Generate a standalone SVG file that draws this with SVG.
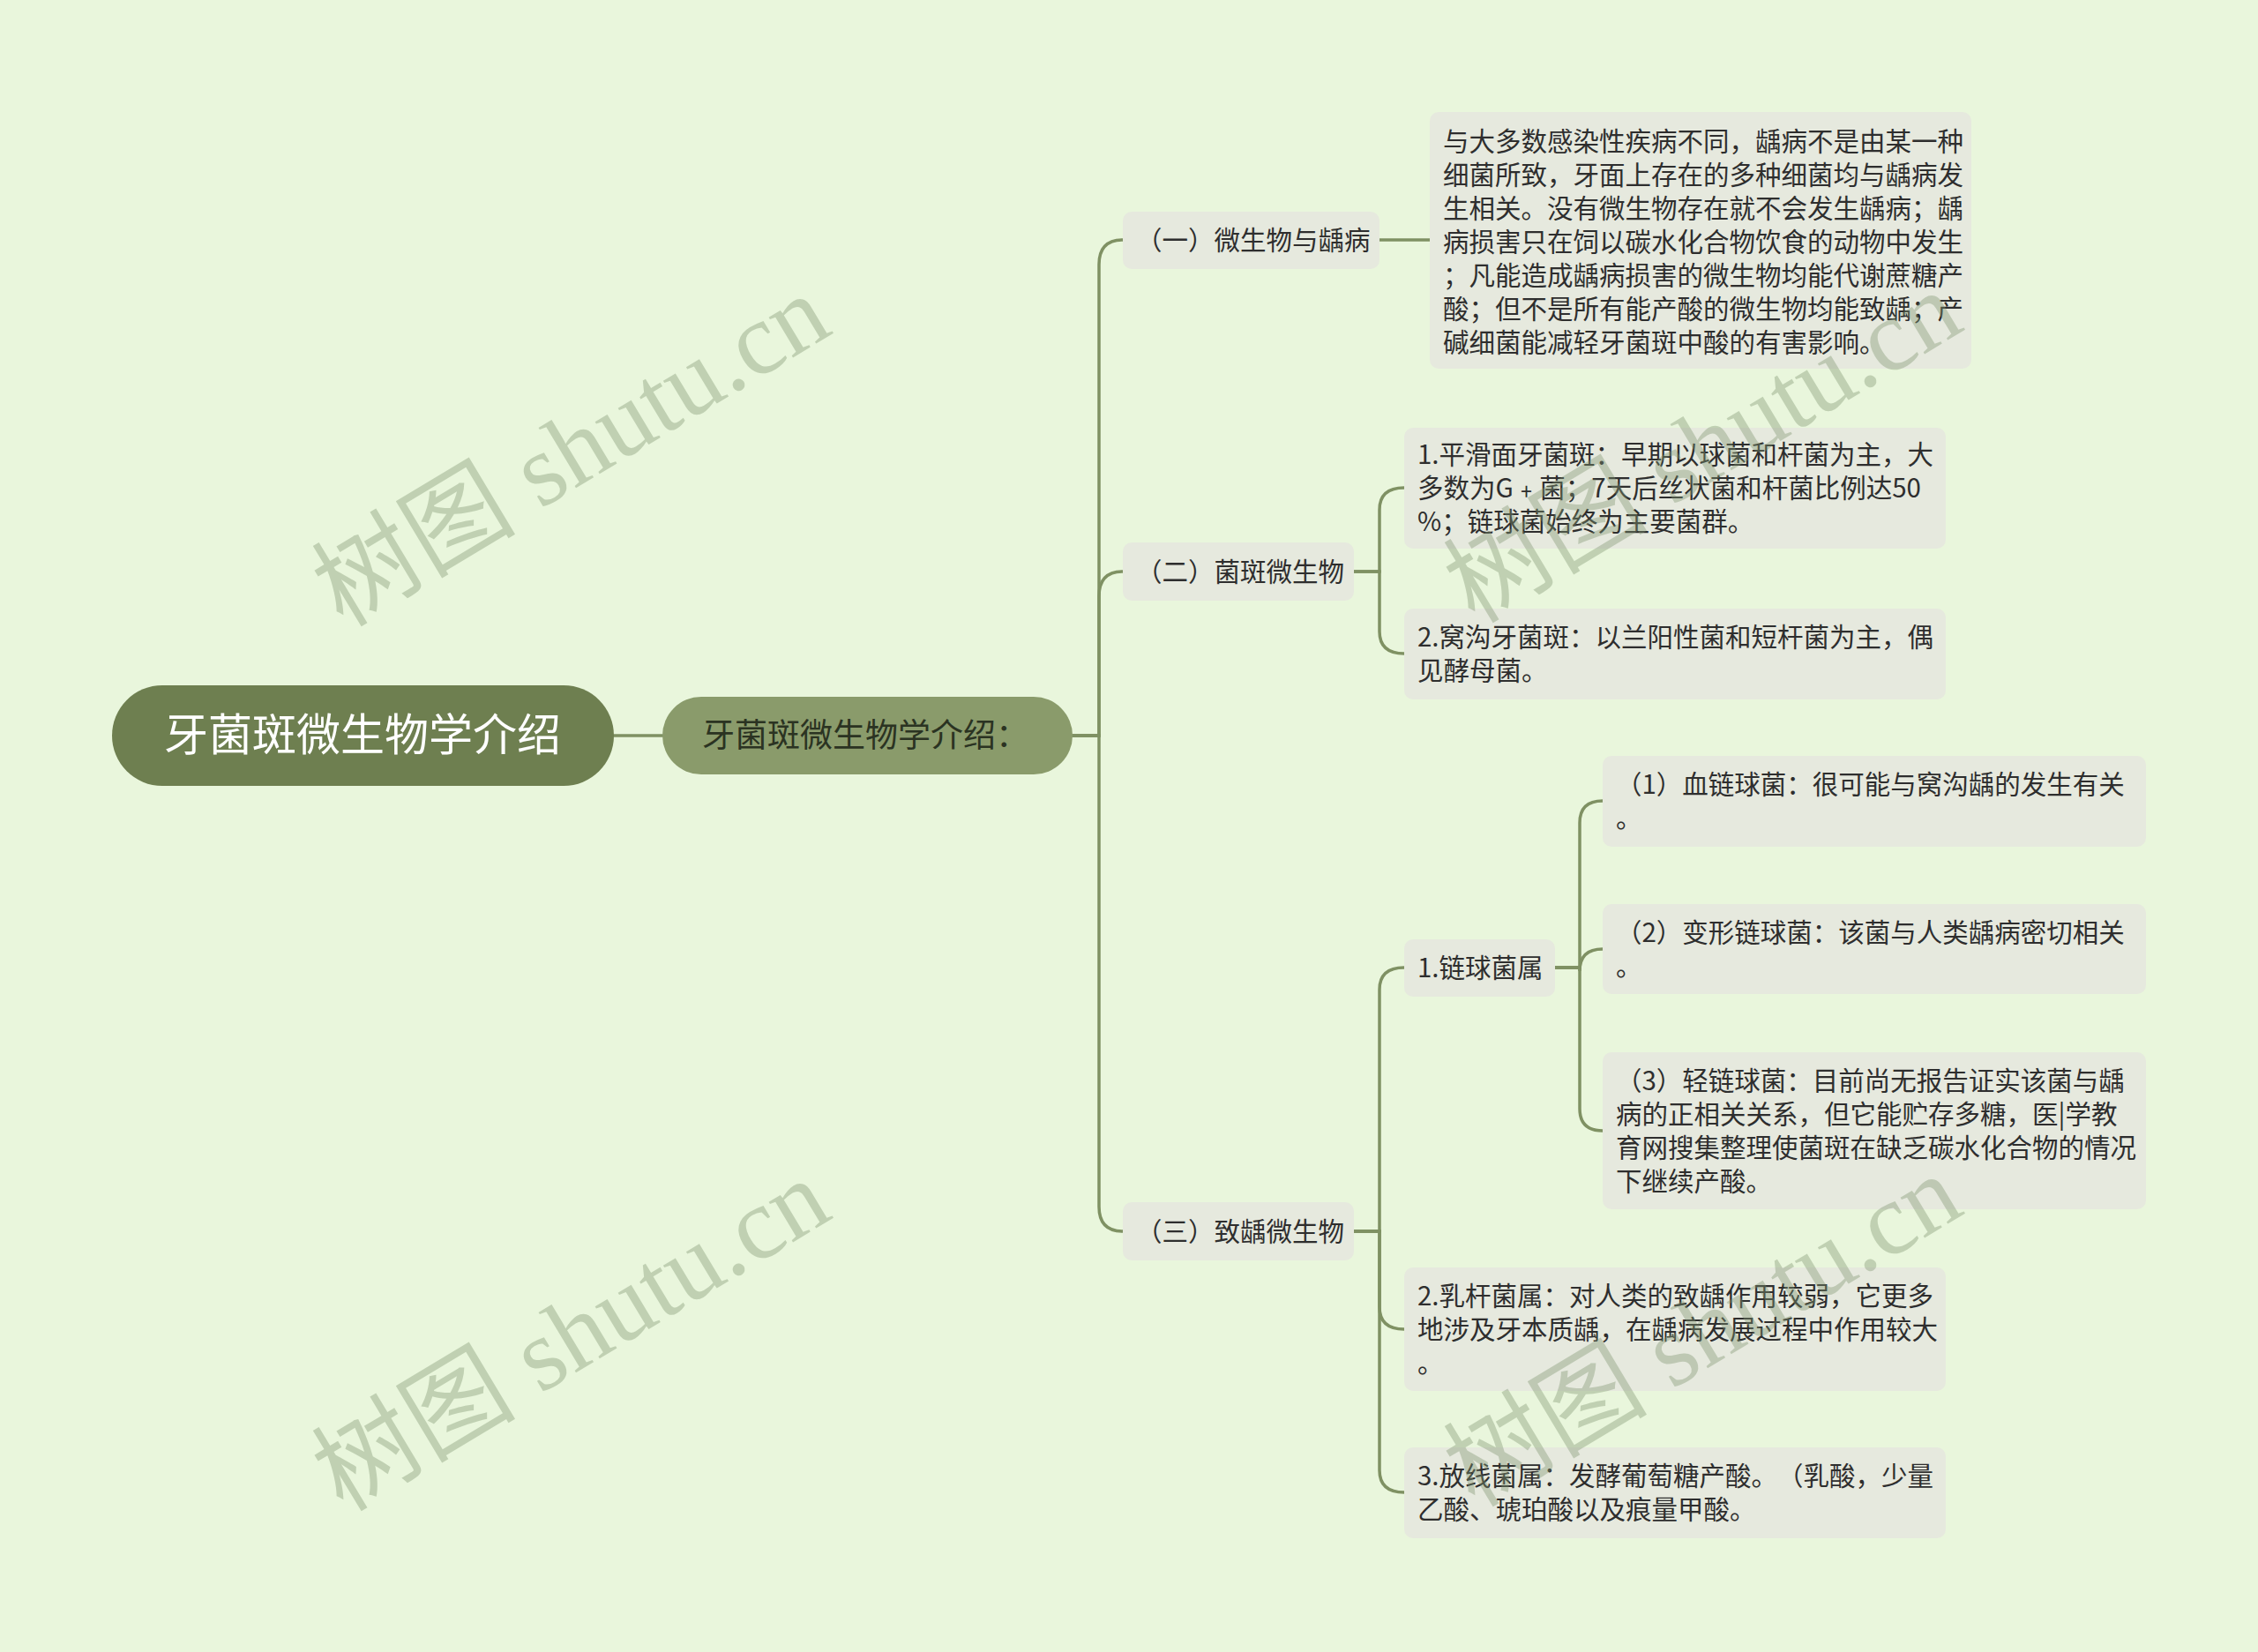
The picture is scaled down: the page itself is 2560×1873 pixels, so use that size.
<svg xmlns="http://www.w3.org/2000/svg" width="2560" height="1873" viewBox="0 0 2560 1873">
<style>
.bg{fill:#e9f6dc}
.ln{fill:none;stroke:#7f9163;stroke-width:3.5;stroke-linecap:round}
.box{fill:#e6e9de}
text{text-spacing-trim:space-all}
.t{font-family:"Noto Sans CJK SC","Noto Sans",sans-serif;font-size:29.5px;fill:#2e2e2e}
.wm{font-family:"Liberation Serif","Noto Sans CJK SC",serif;font-size:116px;fill:#7f9570;opacity:0.38}
</style>
<rect class="bg" x="0" y="0" width="2560" height="1873"/>
<g id="connectors">
<path class="ln" d="M696,834 H751"/>
<path class="ln" d="M1216,834 H1246 V300 Q1246,272 1273,272"/>
<path class="ln" d="M1216,834 H1246 V676 Q1246,648 1273,648"/>
<path class="ln" d="M1216,834 H1246 V1368 Q1246,1396 1273,1396"/>
<path class="ln" d="M1564,272 H1621"/>
<path class="ln" d="M1535,648 H1564 V578 Q1564,553 1592,553"/>
<path class="ln" d="M1535,648 H1564 V716 Q1564,741 1592,741"/>
<path class="ln" d="M1535,1396 H1564 V1122 Q1564,1097 1592,1097"/>
<path class="ln" d="M1535,1396 H1564 V1482 Q1564,1507 1592,1507"/>
<path class="ln" d="M1535,1396 H1564 V1667 Q1564,1692 1592,1692"/>
<path class="ln" d="M1763,1097 H1791 V933 Q1791,908 1817,908"/>
<path class="ln" d="M1763,1097 H1791 V1101 Q1791,1076 1817,1076"/>
<path class="ln" d="M1763,1097 H1791 V1257 Q1791,1282 1817,1282"/>
</g>
<g id="root">
<rect x="127" y="777" width="569" height="114" rx="57" fill="#6e7f50"/>
<text x="411" y="851" text-anchor="middle" font-family="Noto Sans CJK SC, sans-serif" font-size="50" fill="#ffffff">牙菌斑微生物学介绍</text>
</g>
<g id="main">
<rect x="751" y="790" width="465" height="88" rx="44" fill="#8a9b6b"/>
<text x="981" y="847" text-anchor="middle" font-family="Noto Sans CJK SC, sans-serif" font-size="37" fill="#2b3322">牙菌斑微生物学介绍：</text>
</g>
<g id="n1">
<rect class="box" x="1273" y="240" width="291" height="65" rx="10"/>
<text class="t" x="1288" y="283">（一）微生物与龋病</text>
</g>
<g id="n1a">
<rect class="box" x="1621" y="127" width="614" height="291" rx="10"/>
<text class="t"><tspan x="1636" y="171">与大多数感染性疾病不同，龋病不是由某一种</tspan><tspan x="1636" y="209">细菌所致，牙面上存在的多种细菌均与龋病发</tspan><tspan x="1636" y="247">生相关。没有微生物存在就不会发生龋病；龋</tspan><tspan x="1636" y="285">病损害只在饲以碳水化合物饮食的动物中发生</tspan><tspan x="1636" y="323">；凡能造成龋病损害的微生物均能代谢蔗糖产</tspan><tspan x="1636" y="361">酸；但不是所有能产酸的微生物均能致龋；产</tspan><tspan x="1636" y="399">碱细菌能减轻牙菌斑中酸的有害影响。</tspan></text>
</g>
<g id="n2">
<rect class="box" x="1273" y="615" width="262" height="66" rx="10"/>
<text class="t" x="1288" y="659">（二）菌斑微生物</text>
</g>
<g id="n2a">
<rect class="box" x="1592" y="485" width="614" height="137" rx="10"/>
<text class="t"><tspan x="1607" y="526">1.平滑面牙菌斑：早期以球菌和杆菌为主，大</tspan><tspan x="1607" y="564">多数为G﹢菌；7天后丝状菌和杆菌比例达50</tspan><tspan x="1607" y="602">%；链球菌始终为主要菌群。</tspan></text>
</g>
<g id="n2b">
<rect class="box" x="1592" y="690" width="614" height="103" rx="10"/>
<text class="t"><tspan x="1607" y="733">2.窝沟牙菌斑：以兰阳性菌和短杆菌为主，偶</tspan><tspan x="1607" y="771">见酵母菌。</tspan></text>
</g>
<g id="n3">
<rect class="box" x="1273" y="1363" width="262" height="66" rx="10"/>
<text class="t" x="1288" y="1407">（三）致龋微生物</text>
</g>
<g id="n3a">
<rect class="box" x="1592" y="1065" width="171" height="65" rx="10"/>
<text class="t" x="1607" y="1108">1.链球菌属</text>
</g>
<g id="n3a1">
<rect class="box" x="1817" y="857" width="616" height="103" rx="10"/>
<text class="t"><tspan x="1832" y="900">（1）血链球菌：很可能与窝沟龋的发生有关</tspan><tspan x="1832" y="938">。</tspan></text>
</g>
<g id="n3a2">
<rect class="box" x="1817" y="1025" width="616" height="102" rx="10"/>
<text class="t"><tspan x="1832" y="1068">（2）变形链球菌：该菌与人类龋病密切相关</tspan><tspan x="1832" y="1106">。</tspan></text>
</g>
<g id="n3a3">
<rect class="box" x="1817" y="1193" width="616" height="178" rx="10"/>
<text class="t"><tspan x="1832" y="1236">（3）轻链球菌：目前尚无报告证实该菌与龋</tspan><tspan x="1832" y="1274">病的正相关关系，但它能贮存多糖，医|学教</tspan><tspan x="1832" y="1312">育网搜集整理使菌斑在缺乏碳水化合物的情况</tspan><tspan x="1832" y="1350">下继续产酸。</tspan></text>
</g>
<g id="n3b">
<rect class="box" x="1592" y="1437" width="614" height="140" rx="10"/>
<text class="t"><tspan x="1607" y="1480">2.乳杆菌属：对人类的致龋作用较弱，它更多</tspan><tspan x="1607" y="1518">地涉及牙本质龋，在龋病发展过程中作用较大</tspan><tspan x="1607" y="1556">。</tspan></text>
</g>
<g id="n3c">
<rect class="box" x="1592" y="1641" width="614" height="103" rx="10"/>
<text class="t"><tspan x="1607" y="1684">3.放线菌属：发酵葡萄糖产酸。（乳酸，少量</tspan><tspan x="1607" y="1722">乙酸、琥珀酸以及痕量甲酸。</tspan></text>
</g>
<g id="watermarks">
<text class="wm" text-anchor="middle" transform="translate(648,512) rotate(-31)" y="38">树图 shutu.cn</text>
<text class="wm" text-anchor="middle" transform="translate(1931,508) rotate(-31)" y="38">树图 shutu.cn</text>
<text class="wm" text-anchor="middle" transform="translate(648,1515) rotate(-31)" y="38">树图 shutu.cn</text>
<text class="wm" text-anchor="middle" transform="translate(1931,1510) rotate(-31)" y="38">树图 shutu.cn</text>
</g>
</svg>
